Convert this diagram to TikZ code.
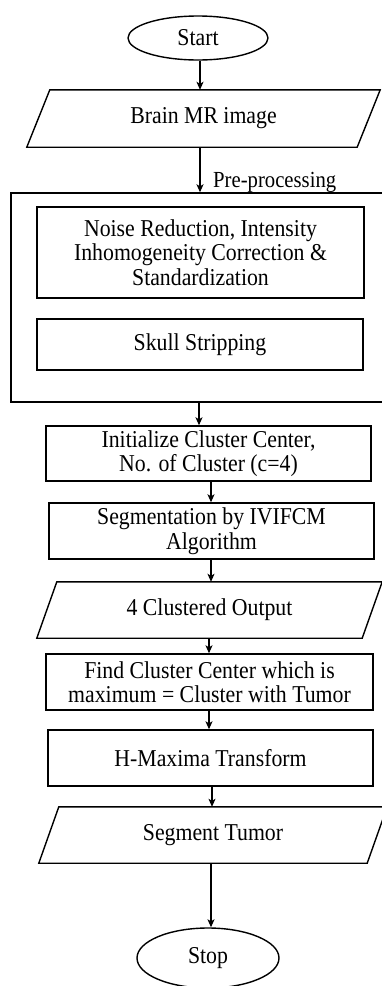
\documentclass[tikz,border=0pt]{standalone}
\usepackage{fontspec}
\setmainfont{Liberation Serif}[FakeStretch=0.9]
\usetikzlibrary{shapes.geometric,arrows.meta}
\begin{document}
\begin{tikzpicture}[x=1pt,y=-1pt,
  every node/.style={font=\fontsize{24.2}{24.5}\selectfont, inner sep=0pt, align=center},
  box/.style={draw, rectangle, line width=1.4pt},
  oval/.style={draw, ellipse, line width=1.4pt},
  para/.style={rectangle},
  paraline/.style={draw, line width=1.4pt, line join=miter},
  arr/.style={-{Stealth[length=8pt,width=7pt,inset=2pt]}, line width=1.2pt}]
\useasboundingbox (0,0) rectangle (382,986);
% nodes
\node[oval, minimum width=140pt, minimum height=44pt] (start) at (198,38) {Start};
\node[para, minimum width=330pt, minimum height=57pt] (brain) at (203.5,118.5) {Brain MR image};
\node[box, minimum width=381pt, minimum height=209pt] (pre) at (201.5,297.5) {};
\node[anchor=west, font=\fontsize{23}{24}\selectfont] (prelab) at (213,182) {Pre-processing};
\node[box, minimum width=327pt, minimum height=91pt] (noise) at (200.5,252.5) {Noise Reduction, Intensity\\Inhomogeneity Correction \&\\Standardization};
\node[box, minimum width=326pt, minimum height=51pt] (skull) at (200,344.5) {Skull Stripping};
\node[box, minimum width=325pt, minimum height=55pt] (init) at (208.5,453.5) {Initialize Cluster Center,\\No. of Cluster (c=4)};
\node[box, minimum width=325pt, minimum height=56pt] (seg) at (211.5,531) {Segmentation by IVIFCM\\Algorithm};
\node[para, minimum width=325pt, minimum height=56pt] (clus) at (209.5,610) {4 Clustered Output};
\node[box, minimum width=327pt, minimum height=56pt] (find) at (209.5,682) {Find Cluster Center which is\\maximum = Cluster with Tumor};
\node[box, minimum width=325pt, minimum height=56pt] (hmax) at (210.5,758) {H-Maxima Transform};
\node[para, minimum width=328pt, minimum height=56pt] (tumor) at (213,835) {Segment Tumor};
\node[oval, minimum width=142pt, minimum height=60pt] (stop) at (208,958) {Stop};
% parallelogram outlines
\draw[paraline] ([xshift=11.5pt]brain.north west) -- ([xshift=11.5pt]brain.north east) -- ([xshift=-11.5pt]brain.south east) -- ([xshift=-11.5pt]brain.south west) -- cycle;
\draw[paraline] ([xshift=10pt]clus.north west) -- ([xshift=10pt]clus.north east) -- ([xshift=-10pt]clus.south east) -- ([xshift=-10pt]clus.south west) -- cycle;
\draw[paraline] ([xshift=10pt]tumor.north west) -- ([xshift=10pt]tumor.north east) -- ([xshift=-10pt]tumor.south east) -- ([xshift=-10pt]tumor.south west) -- cycle;
% connectors
\draw[arr] (start.south -| 200,0) -- (brain.north -| 200,0);
\draw[arr] (brain.south -| 200,0) -- (pre.north -| 200,0);
\draw[arr] (pre.south -| 199,0) -- (init.north -| 199,0);
\draw[arr] (init.south -| 211,0) -- (seg.north -| 211,0);
\draw[arr] (seg.south -| 211,0) -- (clus.north -| 211,0);
\draw[arr] (clus.south -| 209,0) -- (find.north -| 209,0);
\draw[arr] (find.south -| 209,0) -- (hmax.north -| 209,0);
\draw[arr] (hmax.south -| 212,0) -- (tumor.north -| 212,0);
\draw[arr] (tumor.south -| 211,0) -- (stop.north -| 211,0);
\end{tikzpicture}
\end{document}
